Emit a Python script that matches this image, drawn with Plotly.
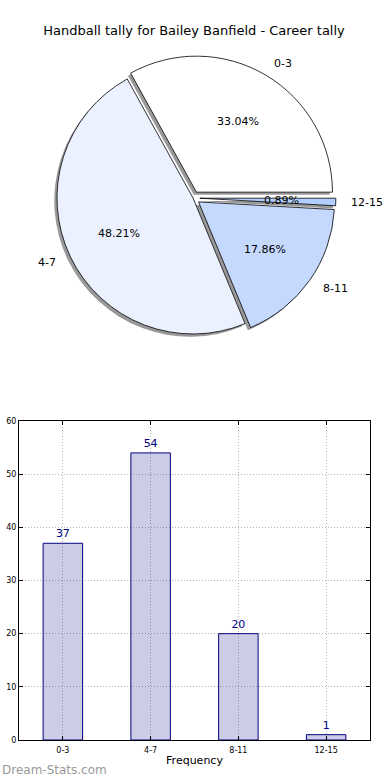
import numpy as np
import plotly.graph_objects as go

# ---------------- data ----------------
categories = ["0-3", "4-7", "8-11", "12-15"]
counts = [37, 54, 20, 1]
pie_colors = ["#FFFFFF", "#EBF1FF", "#C5D9FF", "#B2CEFF"]
explode = [0.05, 0.0, 0.05, 0.05]
y_ticks = [0, 10, 20, 30, 40, 50, 60]

title_text = "Handball tally for Bailey Banfield - Career tally"
x_title = "Frequency"
watermark = "Dream-Stats.com"

# ---------------- layout constants (pixels) ----------------
W, H = 390, 780
PIE_CX, PIE_CY, PIE_R = 193, 198, 136
SHADOW = 0.02 * PIE_R
MAXPULL = max(explode)
FONT = "DejaVu Sans"
total = float(sum(counts))
# plotly's counterclockwise pies end the first slice at `rotation`;
# shift so the first slice starts at 3 o'clock like matplotlib
ROTATION = 90 - 360.0 * counts[0] / total


def pie_domain(cx, cy, r):
    half = r * (1 + MAXPULL)
    return dict(x=[(cx - half) / W, (cx + half) / W],
                y=[1 - (cy + half) / H, 1 - (cy - half) / H])


fig = go.Figure()

# shadow pie (offset left/down like matplotlib's shadow)
fig.add_trace(go.Pie(
    values=counts, labels=categories, pull=explode,
    marker=dict(colors=["rgba(70,70,70,0.55)"] * len(counts), line=dict(width=0)),
    rotation=ROTATION, direction="counterclockwise", sort=False,
    textinfo="none", hoverinfo="skip", showlegend=False,
    domain=pie_domain(PIE_CX - SHADOW, PIE_CY + SHADOW, PIE_R),
))

# main pie
fig.add_trace(go.Pie(
    values=counts, labels=categories, pull=explode,
    marker=dict(colors=pie_colors, line=dict(color="black", width=0.8)),
    rotation=ROTATION, direction="counterclockwise", sort=False,
    textinfo="none", showlegend=False,
    domain=pie_domain(PIE_CX, PIE_CY, PIE_R),
))

# labels and percentages computed from data (matplotlib-style placement)
annotations = []
theta0 = 0.0
for lab, v, p in zip(categories, counts, explode):
    frac = v / total
    mid = np.deg2rad(theta0 + 180.0 * frac)
    theta0 += 360.0 * frac
    c, s = np.cos(mid), np.sin(mid)
    sx = PIE_CX + p * PIE_R * c
    sy = PIE_CY - p * PIE_R * s
    lx = sx + 1.1 * PIE_R * c
    ly = sy - 1.1 * PIE_R * s
    annotations.append(dict(
        x=lx / W, y=1 - ly / H, xref="paper", yref="paper",
        text=lab, showarrow=False,
        xanchor="left" if c > 0 else "right", yanchor="middle",
        font=dict(family=FONT, size=11, color="black")))
    px_ = sx + 0.6 * PIE_R * c
    py_ = sy - 0.6 * PIE_R * s
    annotations.append(dict(
        x=px_ / W, y=1 - py_ / H, xref="paper", yref="paper",
        text="%.2f%%" % (100 * frac), showarrow=False,
        xanchor="center", yanchor="middle",
        font=dict(family=FONT, size=11, color="black")))

annotations.append(dict(
    x=0, y=1 - 770 / H, xref="paper", yref="paper", text=watermark,
    showarrow=False, xanchor="left", yanchor="middle",
    font=dict(family=FONT, size=12, color="#999999")))

# bar chart
fig.add_trace(go.Bar(
    x=categories, y=counts, width=0.45,
    marker=dict(color="rgba(0,0,128,0.2)", line=dict(color="#000080", width=1)),
    text=[str(c) for c in counts], textposition="outside",
    textfont=dict(family=FONT, size=11, color="#000080"),
    cliponaxis=False, showlegend=False, hoverinfo="x+y",
    xaxis="x", yaxis="y",
))

axis_common = dict(
    showgrid=True, gridcolor="#b4b4b4", griddash="1px,2px", gridwidth=1,
    showline=True, linecolor="black", linewidth=1, mirror="ticks",
    ticks="inside", ticklen=4, tickcolor="black", zeroline=False,
    automargin=False,
    tickfont=dict(family=FONT, size=8, color="black"),
)

fig.update_layout(
    width=W, height=H,
    margin=dict(l=0, r=0, t=0, b=0, autoexpand=False),
    paper_bgcolor="white", plot_bgcolor="white",
    title=dict(text=title_text, x=194 / W, y=1 - 30 / H,
               xanchor="center", yanchor="middle", automargin=False,
               font=dict(family=FONT, size=13, color="black")),
    xaxis=dict(domain=[19 / W, 370 / W], anchor="y", type="category",
               range=[-0.5, 3.5], ticklabelstandoff=2,
               title=dict(text=x_title, standoff=2,
                          font=dict(family=FONT, size=11, color="black")),
               **axis_common),
    yaxis=dict(domain=[40 / H, 359 / H], anchor="x", range=[0, 60],
               tickvals=y_ticks, **axis_common),
    annotations=annotations,
    showlegend=False,
)

fig.write_html("out.html", config={"displayModeBar": False},
               post_script="document.body.style.margin='0';document.body.style.overflow='hidden';")
